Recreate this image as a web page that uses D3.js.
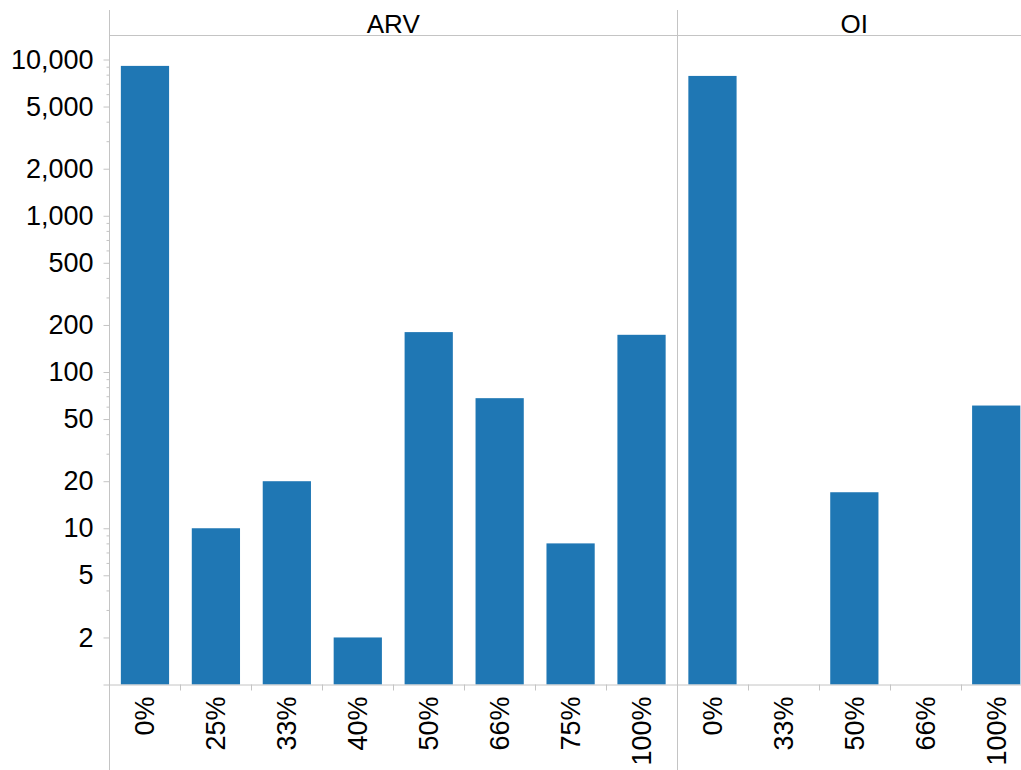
<!DOCTYPE html>
<html>
<head>
<meta charset="utf-8">
<script src="https://cdn.jsdelivr.net/npm/d3@7"></script>
<style>
  body { margin: 0; background: #fff; }
  svg { display: block; font-family: "Liberation Sans", Arial, sans-serif; }
</style>
</head>
<body>
<svg width="1021" height="770"></svg>
<script>
// data
var arvCats = ["0%", "25%", "33%", "40%", "50%", "66%", "75%", "100%"];
var arvValues = [9100, 10, 20, 2, 180, 68, 8, 173];
var oiCats = ["0%", "33%", "50%", "66%", "100%"];
var oiValues = [7850, 1, 17, 1, 61];
var panelNames = ["ARV", "OI"];
var majorTicks = [2, 5, 10, 20, 50, 100, 200, 500, 1000, 2000, 5000, 10000];
var minorTicks = [3, 4, 6, 7, 8, 9, 30, 40, 60, 70, 80, 90, 300, 400, 600, 700, 800, 900,
                  3000, 4000, 6000, 7000, 8000, 9000];

var width = 1021;
var height = 770;
var axisX = 109.5;
var baseY = 684.5;
var headerY = 35.5;
var divX = 677;
var grey = "#c4c4c4";
var fontSize = "26px";

var svg = d3.select("svg");

var y = d3.scaleLog()
  .domain([1, 10000])
  .range([baseY, 59.5]);

var step = (divX - axisX) / arvCats.length;

var panels = [
  { name: panelNames[0], cats: arvCats, vals: arvValues, x0: axisX },
  { name: panelNames[1], cats: oiCats, vals: oiValues, x0: divX }
];

panels.forEach(function(p)
{
  var x = d3.scaleBand()
    .domain(p.cats)
    .range([p.x0, p.x0 + step * p.cats.length])
    .paddingInner(0.32)
    .paddingOuter(0.16);

  var data = p.cats.map(function(c, i) { return { cat: c, val: p.vals[i] }; });

  svg.append("g").selectAll("rect")
    .data(data)
    .enter()
    .append("rect")
    .attr("x", function(d) { return x(d.cat); })
    .attr("y", function(d) { return y(d.val); })
    .attr("width", x.bandwidth())
    .attr("height", function(d) { return baseY - y(d.val); })
    .attr("fill", "#1f77b4");

  // boundary ticks under the axis
  svg.append("g").selectAll("line")
    .data(p.cats.slice(1))
    .enter()
    .append("line")
    .attr("x1", function(d) { return Math.round(x(d) - (step - x.bandwidth()) / 2) + 0.5; })
    .attr("x2", function(d) { return Math.round(x(d) - (step - x.bandwidth()) / 2) + 0.5; })
    .attr("y1", baseY)
    .attr("y2", baseY + 6)
    .attr("stroke", grey);

  // rotated category labels
  svg.append("g").selectAll("text")
    .data(p.cats)
    .enter()
    .append("text")
    .attr("transform", function(d)
    {
      return "translate(" + (x(d) + x.bandwidth() / 2) + "," + (baseY + 12) + ") rotate(-90)";
    })
    .attr("dy", "0.35em")
    .attr("text-anchor", "end")
    .attr("font-size", "27px")
    .attr("fill", "#000")
    .text(function(d) { return d; });

  // panel header
  svg.append("text")
    .attr("x", p.x0 + step * p.cats.length / 2)
    .attr("y", 33)
    .attr("text-anchor", "middle")
    .attr("font-size", fontSize)
    .attr("fill", "#000")
    .text(p.name);
});

// y axis: major ticks with labels
var yAxis = d3.axisLeft(y)
  .tickValues(majorTicks)
  .tickSize(6)
  .tickPadding(10)
  .tickFormat(d3.format(","));

var gy = svg.append("g")
  .attr("transform", "translate(" + axisX + ",0)")
  .call(yAxis)
  .attr("font-family", null)
  .attr("font-size", null);
gy.select(".domain").remove();
gy.selectAll("line").attr("stroke", grey);
gy.selectAll("text").attr("font-size", "27px").attr("fill", "#000");

// minor ticks
var gm = svg.append("g")
  .attr("transform", "translate(" + axisX + ",0)")
  .call(d3.axisLeft(y).tickValues(minorTicks).tickSize(3).tickFormat(""));
gm.select(".domain").remove();
gm.selectAll("line").attr("stroke", grey);

// frame lines
svg.append("line")
  .attr("x1", axisX).attr("x2", axisX)
  .attr("y1", 10).attr("y2", height)
  .attr("stroke", grey);
svg.append("line")
  .attr("x1", divX + 0.5).attr("x2", divX + 0.5)
  .attr("y1", 10).attr("y2", height)
  .attr("stroke", grey);
svg.append("line")
  .attr("x1", axisX).attr("x2", width)
  .attr("y1", headerY).attr("y2", headerY)
  .attr("stroke", grey);
svg.append("line")
  .attr("x1", axisX - 6).attr("x2", width)
  .attr("y1", baseY + 0.5).attr("y2", baseY + 0.5)
  .attr("stroke", grey);
</script>
</body>
</html>
